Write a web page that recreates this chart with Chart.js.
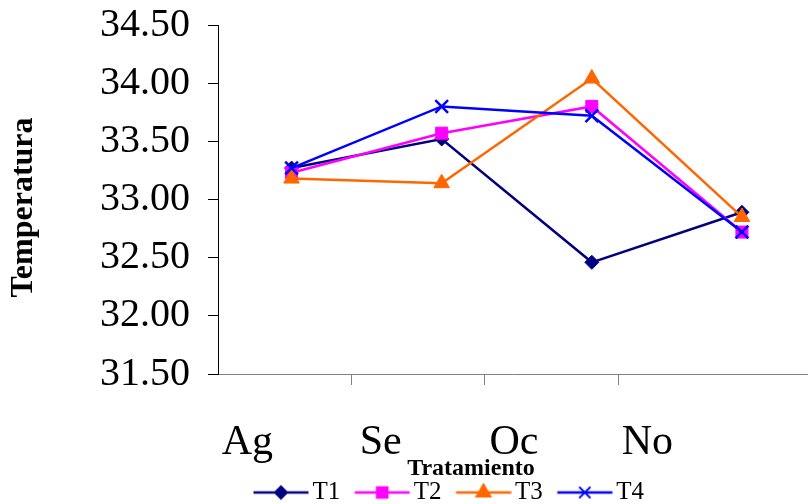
<!DOCTYPE html>
<html>
<head>
<meta charset="utf-8">
<script src="https://cdn.jsdelivr.net/npm/chart.js@4"></script>
<style>
  body { margin: 0; background: #fff; }
  #wrap { width: 808px; height: 504px; }
</style>
</head>
<body>
<div id="wrap"><canvas id="chart"></canvas></div>
<script>
// Data
const months = ["Ag", "Se", "Oc", "No"];
const seriesNames = ["T1", "T2", "T3", "T4"];
const t1 = [33.27, 33.52, 32.46, 32.89];
const t2 = [33.23, 33.57, 33.8, 32.72];
const t3 = [33.18, 33.14, 34.04, 32.85];
const t4 = [33.27, 33.8, 33.72, 32.72];
const yTicks = [31.5, 32, 32.5, 33, 33.5, 34, 34.5];
const labelTicks = [1, 2, 3, 4]; // tick marks of the visible month axis

const serif = "'Liberation Serif', 'Times New Roman', serif";

// line + marker icon for the legend (line sits in the right part of the image)
function legendIcon(color, style, radius) {
  const c = document.createElement("canvas");
  c.width = 76;
  c.height = 20;
  const g = c.getContext("2d");
  g.strokeStyle = color;
  g.fillStyle = color;
  g.lineWidth = 2.5;
  g.beginPath();
  g.moveTo(20.5, 10);
  g.lineTo(75.5, 10);
  g.stroke();
  g.lineWidth = 2;
  Chart.helpers.drawPoint(g, { pointStyle: style, radius: radius, rotation: 0, borderWidth: 2 }, 48, 10);
  return c;
}

function makeSeries(label, values, color, style, radius, order) {
  return {
    label: label,
    data: values.map((v, i) => ({ x: i, y: v })),
    borderColor: color,
    backgroundColor: color,
    borderWidth: 2.5,
    pointStyle: style,
    pointRadius: radius,
    pointHoverRadius: radius,
    pointBorderWidth: style === "crossRot" ? 2.5 : 1,
    xAxisID: "x",
    order: order,
    icon: legendIcon(color, style, radius - 1),
  };
}

const datasets = [
  makeSeries(seriesNames[0], t1, "#000080", "rectRot", 7, 3),
  makeSeries(seriesNames[1], t2, "#FF00FF", "rect", 8.5, 2),
  makeSeries(seriesNames[2], t3, "#FF6600", "triangle", 9, 1),
  makeSeries(seriesNames[3], t4, "#0000FF", "crossRot", 9, 0),
];

// move the legend a bit right and down, as in the original
const legendShift = {
  id: "legendShift",
  afterLayout(chart) {
    const lg = chart.legend;
    lg.left += 39;
    lg.right += 39;
    lg.top += 11;
    lg.bottom += 11;
  },
};

new Chart("chart", {
  type: "line",
  data: { datasets: datasets },
  plugins: [legendShift],
  options: {
    responsive: true,
    maintainAspectRatio: false,
    animation: false,
    layout: { padding: 0, autoPadding: false },
    plugins: {
      tooltip: { enabled: false },
      legend: {
        position: "bottom",
        labels: {
          color: "#000",
          font: { family: serif, size: 25 },
          padding: 3,
          usePointStyle: true,
          pointStyleWidth: 58,
          generateLabels: (chart) =>
            chart.data.datasets.map((ds, i) => ({
              text: ds.label,
              pointStyle: ds.icon,
              fillStyle: ds.borderColor,
              strokeStyle: ds.borderColor,
              lineWidth: 0,
              hidden: false,
              datasetIndex: i,
              fontColor: "#000",
            })),
        },
      },
    },
    scales: {
      // positions of the points
      x: {
        type: "linear",
        display: false,
        min: -0.49,
        max: 3.44,
      },
      // visible month axis
      x2: {
        type: "linear",
        position: "bottom",
        min: 0,
        max: 4.425,
        afterBuildTicks: (axis) => {
          axis.ticks = labelTicks.map((v) => ({ value: v }));
        },
        afterFit: (axis) => {
          axis.height = 92;
          axis.paddingLeft = 0;
          axis.paddingRight = 0;
        },
        border: { display: true, color: "#808080", width: 1 },
        grid: {
          drawOnChartArea: false,
          tickLength: 11,
          tickColor: (ctx) => (ctx.tick && ctx.tick.value === 4 ? "rgba(0,0,0,0)" : "#808080"),
        },
        ticks: {
          color: "#000",
          font: { family: serif, size: 42, lineHeight: 1.0 },
          padding: 37,
          labelOffset: -104,
          maxRotation: 0,
          autoSkip: false,
          callback: (v) => months[v - 1],
        },
        title: {
          display: true,
          // trailing spaces pull the centred word left, where the original has it
          text: "Tratamiento" + " ".repeat(14),
          color: "#000",
          font: { family: serif, size: 24, weight: "bold", lineHeight: 1.0 },
          padding: { top: 0, bottom: -15 },
        },
      },
      y: {
        min: 31.5,
        max: 34.5,
        afterBuildTicks: (axis) => {
          axis.ticks = yTicks.map((v) => ({ value: v }));
        },
        afterFit: (axis) => {
          axis.width = 218;
          axis.paddingTop = 25;
          axis.paddingBottom = 0;
        },
        border: { display: true, color: "#000", width: 1 },
        grid: {
          drawOnChartArea: false,
          tickLength: 10,
          tickColor: "#000",
        },
        ticks: {
          color: "#000",
          font: { family: serif, size: 40, lineHeight: 1.25 },
          padding: 18,
          autoSkip: false,
          callback: (v) => v.toFixed(2),
        },
        title: {
          display: true,
          text: "Temperatura  ",
          color: "#000",
          font: { family: serif, size: 32, weight: "bold", lineHeight: 1.0 },
          padding: { top: 8, bottom: 0 },
        },
      },
    },
  },
});
</script>
</body>
</html>
